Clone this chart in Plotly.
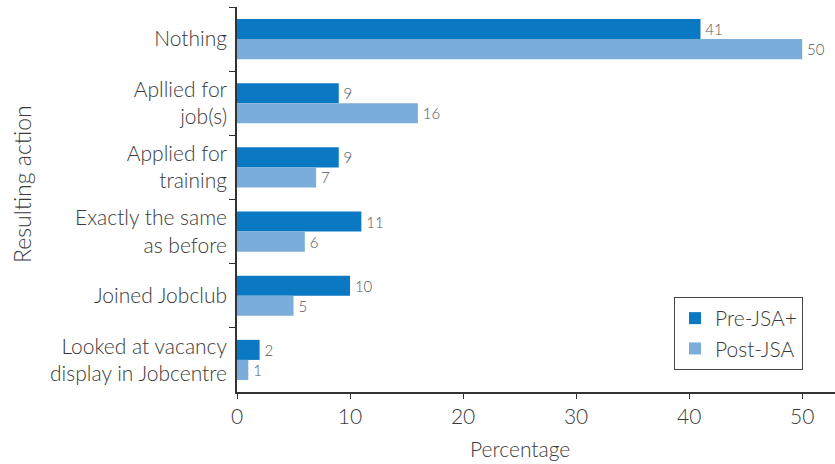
import plotly.graph_objects as go

# Survey responses: what claimants did as a result of the interview
actions = [
    "Nothing",
    "Apllied for<br>job(s)",
    "Applied for<br>training",
    "Exactly the same<br>as before",
    "Joined Jobclub",
    "Looked at vacancy<br>display in Jobcentre",
]
pre_jsa = [41, 9, 9, 11, 10, 2]
post_jsa = [50, 16, 7, 6, 5, 1]

series_names = ["Pre-JSA+", "Post-JSA"]
colors = ["#0a78c2", "#7badda"]
x_ticks = [0, 10, 20, 30, 40, 50]

FONT = "Lato"
TXT = "#3a3a3a"
W = 300

# plot-area geometry in pixels
L, R, T, B = 237, 835, 7, 392
PW, PH = R - L, B - T

fig = go.Figure()
for name, vals, col in zip(series_names, [pre_jsa, post_jsa], colors):
    fig.add_trace(go.Bar(
        y=actions, x=vals, name=name, orientation="h",
        marker=dict(color=col, line=dict(width=0)),
        text=["\u2009" + str(v) for v in vals], textposition="outside",
        textfont=dict(family=FONT, size=15, color="#555555", weight=W),
        cliponaxis=False,
    ))

fig.update_layout(
    width=835, height=464,
    margin=dict(l=L, r=835 - R, t=T, b=464 - B),
    paper_bgcolor="white", plot_bgcolor="white",
    barmode="group", bargap=0.375, bargroupgap=0,
    font=dict(family=FONT, size=21, color=TXT, weight=W),
    showlegend=True,
    legend=dict(
        x=(803 - L) / PW, y=(B - 297) / PH, xanchor="right", yanchor="top",
        bordercolor="#444444", borderwidth=1, bgcolor="white",
        font=dict(family=FONT, size=21, color=TXT, weight=W),
        traceorder="normal", itemwidth=30, tracegroupgap=0,
    ),
    xaxis=dict(
        range=[0, 52.9], tickvals=x_ticks, ticks="outside", ticklen=5,
        tickcolor="#333", showline=True, linecolor="#333", linewidth=1.5,
        showgrid=False, zeroline=False,
        tickfont=dict(family=FONT, size=21, color=TXT, weight=W),
    ),
    yaxis=dict(
        autorange="reversed", ticks="outside", ticklen=6, tickcolor="#333",
        tickson="boundaries", showline=True, linecolor="#333", linewidth=1.5,
        showgrid=False, zeroline=False, ticklabelstandoff=4,
        tickfont=dict(family=FONT, size=21, color=TXT, weight=W),
    ),
)

fig.add_annotation(
    text="Percentage", xref="paper", yref="paper",
    x=(520 - L) / PW, y=-(448 - B) / PH,
    xanchor="center", yanchor="middle", showarrow=False,
    font=dict(family=FONT, size=21, color=TXT, weight=W),
)
fig.add_annotation(
    text="Resulting action", xref="paper", yref="paper",
    x=-(L - 22) / PW, y=(B - 184) / PH, textangle=-90,
    xanchor="center", yanchor="middle", showarrow=False,
    font=dict(family=FONT, size=23, color=TXT, weight=W),
)

fig.write_html("out.html")
